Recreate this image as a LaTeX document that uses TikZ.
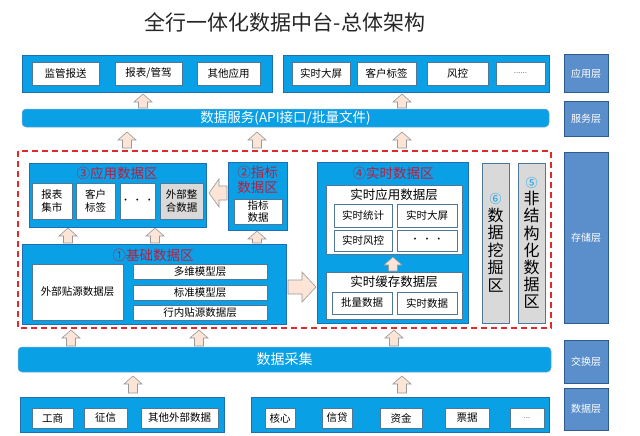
\documentclass[tikz,border=0pt]{standalone}
\usepackage{fontspec}
\setmainfont{Noto Sans CJK SC}
\definecolor{cblue}{HTML}{0AA0E6}
\definecolor{cbord}{HTML}{1F6FB0}
\definecolor{clay}{HTML}{5B8FCB}
\definecolor{clayd}{HTML}{2F5C8F}
\definecolor{cgrey}{HTML}{D9D9D9}
\definecolor{cred}{HTML}{B81E40}
\definecolor{carr}{HTML}{FCE4D6}
\definecolor{cdash}{HTML}{E02A2A}
\tikzset{
  blu/.style={fill=cblue, draw=cbord, line width=0.8pt},
  wb/.style={fill=white, draw=cbord!50!gray, line width=0.5pt, font=\fontsize{10.5}{12.5}\selectfont, align=center},
  gb/.style={fill=cgrey, draw=cbord!50!gray, line width=0.5pt, font=\fontsize{10.5}{12.5}\selectfont, align=center},
  lay/.style={fill=clay, draw=clayd, line width=1pt, text=white, font=\fontsize{10}{12}\selectfont},
  bar/.style={fill=cblue, draw=cbord!60, line width=0.5pt, rounded corners=4pt, text=white},
  zt/.style={text=cred, font=\fontsize{13.5}{15}\selectfont},
  sub/.style={font=\fontsize{12.5}{14}\selectfont},
  barr/.style={fill=carr, draw=gray!80, line width=0.6pt}
}
\newcommand\bx[7]{\node[#2, minimum width={(#5)-(#3)}, minimum height={(#6)-(#4)}, inner sep=0pt] (#1) at ({((#3)+(#5))/2},{((#4)+(#6))/2}) {#7};}
% up block arrow: x, ytop, ybottom
\newcommand\blkup[3]{\draw[barr] ({#1-4.5},#3) -- ({#1-4.5},{#2+8}) -- ({#1-9},{#2+8}) -- (#1,#2) -- ({#1+9},{#2+8}) -- ({#1+4.5},{#2+8}) -- ({#1+4.5},#3) -- cycle;}
\begin{document}
\begin{tikzpicture}[x=1pt,y=-1pt]
\useasboundingbox[fill=white] (0,0) rectangle (640,436);
\node[text=black!85, font=\fontsize{21}{24}\selectfont] (title) at (285,22) {全行一体化数据中台-总体架构};
% application layer
\bx{appL}{blu}{22}{55}{272}{92}{}
\bx{a1}{wb}{32}{62}{99}{85}{监管报送}
\bx{a2}{wb}{115}{62}{182}{85}{报表/管驾}
\bx{a3}{wb}{197}{62}{260}{85}{其他应用}
\bx{appR}{blu}{283}{55}{549}{92}{}
\bx{a4}{wb}{292}{62}{350}{85}{实时大屏}
\bx{a5}{wb}{357}{62}{416}{85}{客户标签}
\bx{a6}{wb}{427}{62}{488}{85}{风控}
\bx{a7}{wb}{496}{62}{545}{85}{\textcolor{gray}{\fontsize{8}{9}\selectfont ......}}
\bx{L1}{lay}{564}{55}{608}{92}{应用层}
\blkup{143}{94}{108}
\blkup{402}{94}{108}
% service bar
\bx{svc}{bar}{22}{109}{549}{127}{\fontsize{13.5}{15}\selectfont 数据服务(API接口/批量文件)}
\bx{L2}{lay}{564}{101}{608}{136}{服务层}
\blkup{127}{132}{148}
\blkup{257}{132}{148}
\blkup{402}{132}{148}
% storage area
\draw[cdash, line width=1.5pt, dash pattern=on 6pt off 4pt] (18,151) rectangle (551,328);
\bx{L3}{lay}{564}{152}{608}{323}{存储层}
% zone 3
\bx{z3}{blu}{29}{163}{206}{227}{}
\node[zt] (z3t) at (117,173) {③应用数据区};
\bx{b1}{wb}{32}{183}{72}{219}{报表\\集市}
\bx{b2}{wb}{76}{183}{115}{219}{客户\\标签}
\bx{b3}{wb}{120}{183}{155}{219}{\fontsize{9}{9}\selectfont •\,\,•\,\,•}
\bx{b4}{gb}{160}{183}{203}{219}{外部整\\合数据}
% left arrow 2 -> 3
\draw[barr] (227,186) -- (219,186) -- (219,179) -- (209,193) -- (219,207) -- (219,200) -- (227,200) -- cycle;
% zone 2
\bx{z2}{blu}{228}{162}{287}{230}{}
\node[zt, align=center] (z2t) at (257.5,179.5) {②指标\\数据区};
\bx{c1}{wb}{234}{199}{282}{224}{指标\\数据}
\blkup{68}{228}{243}
\blkup{155}{228}{243}
\blkup{257}{231}{243}
% zone 1
\bx{z1}{blu}{22}{244}{286}{324}{}
\node[zt] (z1t) at (153,255) {①基础数据区};
\bx{d1}{wb}{32}{264}{123}{320}{外部贴源数据层}
\bx{d2}{wb}{133}{264}{267}{279}{多维模型层}
\bx{d3}{wb}{133}{285}{267}{300}{标准模型层}
\bx{d4}{wb}{133}{305}{267}{320}{行内贴源数据层}
% right arrow 1 -> 4
\draw[barr] (288,280) -- (302,280) -- (302,272) -- (316,287) -- (302,302) -- (302,294) -- (288,294) -- cycle;
% zone 4
\bx{z4}{blu}{317}{162}{468}{323}{}
\node[zt] (z4t) at (393,173) {④实时数据区};
\bx{e0}{wb}{326}{185}{462}{254}{}
\node[sub] (e0t) at (394,195) {实时应用数据层};
\bx{e1}{wb}{334}{204}{392}{227}{实时统计}
\bx{e2}{wb}{397}{204}{457}{227}{实时大屏}
\bx{e3}{wb}{334}{230}{392}{251}{实时风控}
\bx{e4}{wb}{397}{230}{457}{251}{\fontsize{9}{9}\selectfont •\,\,•\,\,•}
\blkup{393}{257}{271}
\bx{f0}{wb}{326}{272}{462}{319}{}
\node[sub] (f0t) at (394,282) {实时缓存数据层};
\bx{f1}{wb}{332}{292}{392}{314}{批量数据}
\bx{f2}{wb}{397}{292}{457}{314}{实时数据}
% zone 6 and 5
\bx{z6}{gb}{482}{163}{509}{323}{}
\node[align=center, font=\fontsize{16}{17.5}\selectfont] (z6t) at (495.5,243) {\textcolor{cblue}{\fontsize{12}{14}\selectfont ⑥}\\数\\据\\挖\\掘\\区};
\bx{z5}{gb}{518}{163}{545}{323}{}
\node[align=center, font=\fontsize{16}{17.2}\selectfont] (z5t) at (531.5,243) {\textcolor{cblue}{\fontsize{12}{14}\selectfont ⑤}\\非\\结\\构\\化\\数\\据\\区};
% exchange
\blkup{71}{330}{346}
\blkup{199}{330}{346}
\blkup{394}{330}{346}
\bx{col}{bar}{18}{347}{551}{372}{\fontsize{14}{16}\selectfont 数据采集}
\bx{L4}{lay}{564}{340}{608}{383}{交换层}
\blkup{133}{376}{393}
\blkup{402}{376}{393}
% data layer
\bx{dL}{blu}{20}{397}{224}{432}{}
\bx{g1}{wb}{32}{408}{73}{428}{工商}
\bx{g2}{wb}{84}{408}{127}{428}{征信}
\bx{g3}{wb}{141}{408}{218}{428}{其他外部数据}
\bx{dR}{blu}{251}{397}{549}{432}{}
\bx{h1}{wb}{265}{408}{295}{428}{核心}
\bx{h2}{wb}{322}{408}{352}{428}{信贷}
\bx{h3}{wb}{380}{408}{422}{428}{资金}
\bx{h4}{wb}{445}{408}{489}{428}{票据}
\bx{h5}{wb}{510}{408}{544}{428}{\textcolor{gray}{\fontsize{8}{9}\selectfont ...}}
\bx{L5}{lay}{564}{388}{608}{430}{数据层}
\end{tikzpicture}
\end{document}
